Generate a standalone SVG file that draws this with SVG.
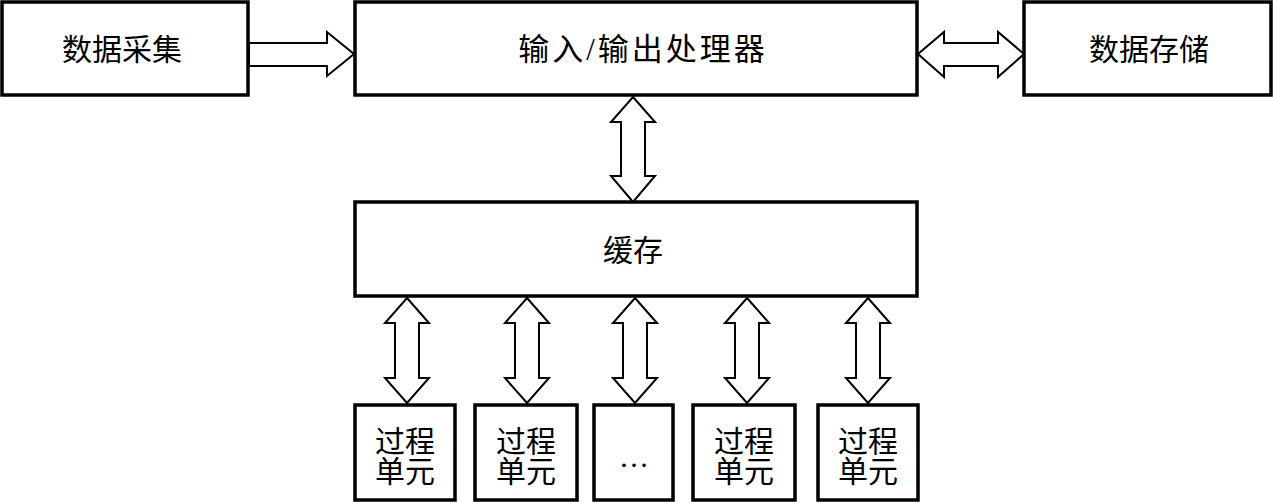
<svg xmlns="http://www.w3.org/2000/svg" width="1273" height="502" viewBox="0 0 1273 502">
<style>
.box{fill:#fff;stroke:#000;stroke-width:3.5}
.arr{fill:#fff;stroke:#000;stroke-width:2;stroke-linejoin:miter}
.t{font-family:"Liberation Serif","Noto Sans CJK SC",serif;font-size:30px;fill:#000;text-anchor:middle;dominant-baseline:central}
</style>
<rect width="1273" height="502" fill="#fff"/>
<g id="connectors">
<path class="arr" d="M249,43 H327 V32 L354,54 L327,76 V66 H249 Z"/>
<path class="arr" d="M918,54 L944,32 V43 H998 V32 L1024,54 L998,77 V66 H944 V77 Z"/>
<path class="arr" d="M633,97 L655,122 H645 V176 H655 L633,202 L611,176 H621 V122 H611 Z"/>
<path class="arr" d="M407,298 L429,323 H419 V378 H429 L407,403 L385,378 H395 V323 H385 Z"/>
<path class="arr" d="M527,298 L549,323 H539 V378 H549 L527,403 L505,378 H515 V323 H505 Z"/>
<path class="arr" d="M635,298 L657,323 H647 V378 H657 L635,403 L613,378 H623 V323 H613 Z"/>
<path class="arr" d="M747,298 L769,323 H759 V378 H769 L747,403 L725,378 H735 V323 H725 Z"/>
<path class="arr" d="M868,298 L890,323 H880 V378 H890 L868,403 L846,378 H856 V323 H846 Z"/>
</g>
<g id="collect"><rect class="box" x="2" y="2" width="246" height="93"/><text class="t" x="122" y="49">数据采集</text></g>
<g id="io"><rect class="box" x="355" y="2" width="562" height="93"/><text class="t" x="643" y="49" letter-spacing="3" style="font-size:31px">输入/输出处理器</text></g>
<g id="storage"><rect class="box" x="1024" y="2" width="247" height="93"/><text class="t" x="1149" y="49">数据存储</text></g>
<g id="cache"><rect class="box" x="355" y="202" width="562" height="94"/><text class="t" x="633" y="250">缓存</text></g>
<g id="pe1"><rect class="box" x="355" y="405" width="100" height="95"/><text class="t" x="405" y="441">过程</text><text class="t" x="405" y="471">单元</text></g>
<g id="pe2"><rect class="box" x="475" y="405" width="102" height="95"/><text class="t" x="526" y="441">过程</text><text class="t" x="526" y="471">单元</text></g>
<g id="pe3"><rect class="box" x="594" y="405" width="79" height="95"/><text class="t" x="634" y="456" style="font-size:30px">…</text></g>
<g id="pe4"><rect class="box" x="693" y="405" width="102" height="95"/><text class="t" x="744" y="441">过程</text><text class="t" x="744" y="471">单元</text></g>
<g id="pe5"><rect class="box" x="818" y="405" width="100" height="95"/><text class="t" x="868" y="441">过程</text><text class="t" x="868" y="471">单元</text></g>
</svg>
